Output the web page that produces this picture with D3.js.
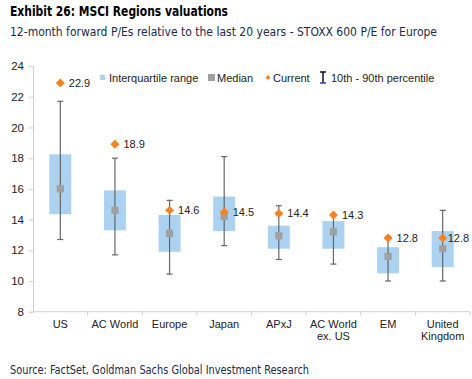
<!DOCTYPE html>
<html><head><meta charset="utf-8">
<script src="https://cdn.jsdelivr.net/npm/d3@7"></script>
<style>
body{margin:0;background:#fff;}
svg{display:block;}
</style></head>
<body>
<svg id="c" width="472" height="379"></svg>
<script>
const categories = [["US"],["AC World"],["Europe"],["Japan"],["APxJ"],["AC World","ex. US"],["EM"],["United","Kingdom"]];
const q75   = [18.25, 15.9, 14.3, 15.5, 13.6, 13.9, 12.2, 13.25];
const q25   = [14.35, 13.3, 11.9, 13.25, 12.1, 12.1, 10.5, 10.9];
const median= [16.0, 14.6, 13.1, 14.2, 12.95, 13.2, 11.6, 12.1];
const p90   = [21.7, 18.0, 15.25, 18.1, 14.9, 14.3, 12.9, 14.6];
const p10   = [12.7, 11.7, 10.45, 12.3, 11.4, 11.1, 10.0, 10.0];
const current=[22.9, 18.9, 14.6, 14.5, 14.4, 14.3, 12.8, 12.8];
const yTicks = [8,10,12,14,16,18,20,22,24];

const svg = d3.select("#c");
const keys = categories.map(c=>c.join(" "));
const x = d3.scaleBand().domain(keys).range([33, 470]);
const y = d3.scaleLinear().domain([8,24]).range([311.7, 66]);

const tfont = "'DejaVu Sans Condensed','DejaVu Sans',sans-serif";
// Title
svg.append("text").attr("x",10).attr("y",16)
  .attr("font-family",tfont).attr("font-weight","bold")
  .attr("font-size",14).attr("fill","#000")
  .attr("textLength",218).attr("lengthAdjust","spacingAndGlyphs")
  .text("Exhibit 26: MSCI Regions valuations");
svg.append("text").attr("x",10).attr("y",36)
  .attr("font-family",tfont)
  .attr("font-size",13).attr("fill","#1a2a4a")
  .attr("textLength",427).attr("lengthAdjust","spacingAndGlyphs")
  .text("12-month forward P/Es relative to the last 20 years - STOXX 600 P/E for Europe");
svg.append("text").attr("x",10).attr("y",374)
  .attr("font-family",tfont)
  .attr("font-size",12).attr("fill","#1a2a4a")
  .attr("textLength",299).attr("lengthAdjust","spacingAndGlyphs")
  .text("Source: FactSet, Goldman Sachs Global Investment Research");

const font = "'Liberation Sans',Arial,sans-serif";

// Y axis
const yAxis = svg.append("g").attr("transform","translate(33,0)")
  .call(d3.axisLeft(y).tickValues(yTicks).tickSize(4).tickPadding(5).tickFormat(d3.format("d")));
yAxis.select(".domain").attr("stroke","#d0d0d0");
yAxis.selectAll(".tick line").attr("stroke","#d0d0d0");
yAxis.selectAll("text").attr("font-family",font).attr("font-size",11.5).attr("fill","#222");

// X axis
const xAxisG = svg.append("g").attr("transform","translate(0,311.7)");
xAxisG.append("line").attr("x1",33).attr("x2",470).attr("stroke","#d0d0d0");
xAxisG.selectAll("line.t").data(keys).enter().append("line")
  .attr("x1",d=>x(d)+x.bandwidth()).attr("x2",d=>x(d)+x.bandwidth())
  .attr("y1",0).attr("y2",4).attr("stroke","#d0d0d0");
const xl = xAxisG.selectAll("text.c").data(categories).enter().append("text")
  .attr("text-anchor","middle").attr("font-family",font).attr("font-size",11).attr("fill","#222")
  .attr("transform",(d,i)=>`translate(${x(keys[i])+x.bandwidth()/2},16.5)`);
xl.selectAll("tspan").data(d=>d).enter().append("tspan")
  .attr("x",0).attr("dy",(d,i)=>i===0?0:12).text(d=>d);

// Boxes
const bw = 22;
const g = svg.append("g");
keys.forEach((k,i)=>{
  const cx = x(k)+x.bandwidth()/2;
  g.append("rect").attr("x",cx-bw/2).attr("y",y(q75[i])).attr("width",bw)
    .attr("height",y(q25[i])-y(q75[i])).attr("fill","#abd3f1");
  g.append("line").attr("x1",cx).attr("x2",cx).attr("y1",y(p90[i])).attr("y2",y(p10[i]))
    .attr("stroke","#666").attr("stroke-width",1.2);
  [p90[i],p10[i]].forEach(v=>{
    g.append("line").attr("x1",cx-3).attr("x2",cx+3).attr("y1",y(v)).attr("y2",y(v))
      .attr("stroke","#666").attr("stroke-width",1.2);
  });
  g.append("rect").attr("x",cx-3.6).attr("y",y(median[i])-3.6).attr("width",7.2).attr("height",7.2)
    .attr("fill","#a0a0a0");
  g.append("path").attr("d",d3.symbol(d3.symbolSquare,40)())
    .attr("transform",`translate(${cx},${y(current[i])}) rotate(45)`).attr("fill","#f7821e");
  g.append("text").attr("x",cx+(i===7?5:8.5)).attr("y",y(current[i])+4)
    .attr("font-family",font).attr("font-size",11).attr("fill","#222")
    .text(d3.format(".1f")(current[i]));
});

// Legend
const lg = svg.append("g").attr("font-family",font).attr("font-size",11).attr("fill","#222");
lg.append("rect").attr("x",100).attr("y",75).attr("width",5).attr("height",5).attr("fill","#abd3f1");
lg.append("text").attr("x",109).attr("y",81.5).text("Interquartile range");
lg.append("rect").attr("x",208).attr("y",74).attr("width",7).attr("height",7).attr("fill","#a0a0a0");
lg.append("text").attr("x",217).attr("y",81.5).text("Median");
lg.append("path").attr("d",d3.symbol(d3.symbolSquare,12)())
  .attr("transform","translate(268,77.5) rotate(45)").attr("fill","#f7821e");
lg.append("text").attr("x",273).attr("y",81.5).text("Current");
lg.append("line").attr("x1",323).attr("x2",323).attr("y1",72).attr("y2",83).attr("stroke","#111").attr("stroke-width",1.5);
lg.append("line").attr("x1",320).attr("x2",326).attr("y1",72).attr("y2",72).attr("stroke","#111").attr("stroke-width",1.5);
lg.append("line").attr("x1",320).attr("x2",326).attr("y1",83).attr("y2",83).attr("stroke","#2a4a9a").attr("stroke-width",1.5);
lg.append("text").attr("x",331).attr("y",81.5).text("10th - 90th percentile");
</script>
</body></html>
